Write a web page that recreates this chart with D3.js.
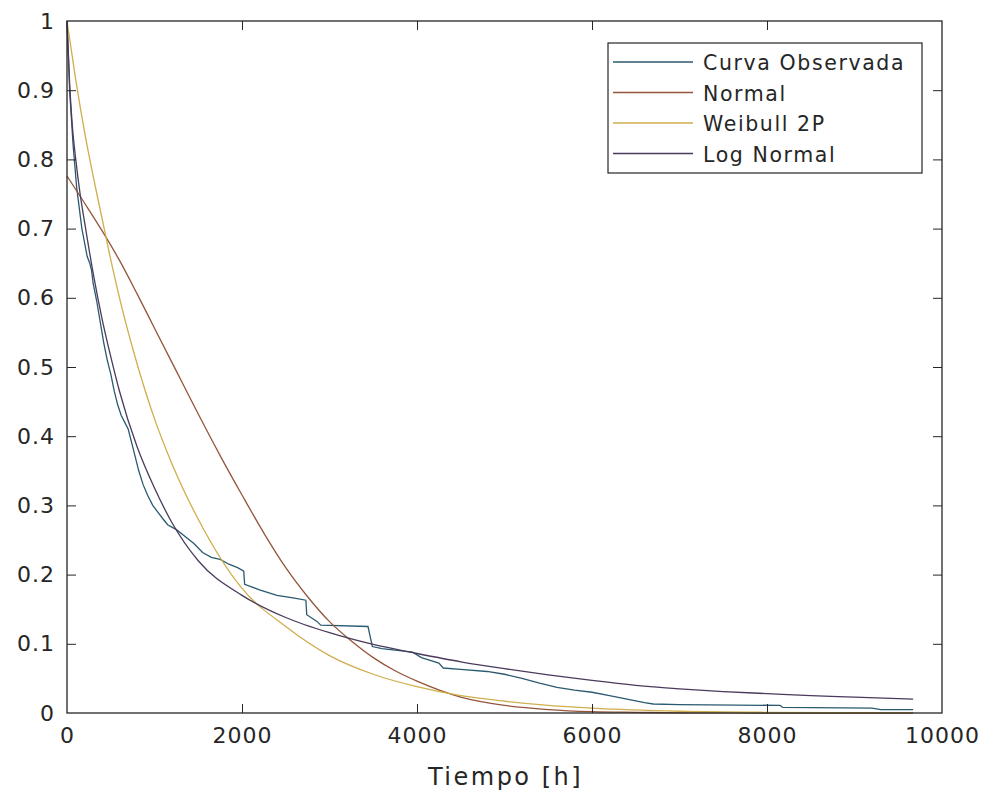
<!DOCTYPE html>
<html>
<head>
<meta charset="utf-8">
<script src="https://cdn.jsdelivr.net/npm/d3@7"></script>
<style>
  html, body { margin: 0; padding: 0; background: #fff; }
  svg { display: block; }
  text { font-family: "DejaVu Sans", sans-serif; fill: #262626; }
</style>
</head>
<body>
<svg id="chart" width="987" height="796"></svg>
<script>
// ---- Data ----
const xTicks = [0, 2000, 4000, 6000, 8000, 10000];
const yTicks = [0, 0.1, 0.2, 0.3, 0.4, 0.5, 0.6, 0.7, 0.8, 0.9, 1];
const xLabel = "Tiempo [h]";
const seriesNames = ["Curva Observada", "Normal", "Weibull 2P", "Log Normal"];

const obsT = [0,15,30,50,70,90,110,140,170,200,230,260,280,300,340,380,420,460,500,540,580,620,660,700,740,780,820,870,920,980,1040,1100,1150,1250,1350,1450,1550,1650,1750,1850,1950,2020,2030,2200,2400,2600,2730,2740,2860,2900,3440,3490,3600,3800,3950,4050,4250,4300,4500,4800,5000,5200,5400,5600,5800,6000,6200,6400,6600,6700,7000,8150,8180,9200,9300,9670];
const obsV = [1.0,0.95,0.90,0.86,0.82,0.79,0.76,0.73,0.70,0.68,0.66,0.65,0.64,0.62,0.595,0.565,0.535,0.51,0.49,0.465,0.445,0.43,0.42,0.41,0.39,0.37,0.35,0.33,0.315,0.30,0.29,0.28,0.272,0.265,0.255,0.245,0.232,0.225,0.222,0.215,0.21,0.205,0.186,0.178,0.17,0.166,0.163,0.142,0.132,0.127,0.125,0.096,0.093,0.09,0.088,0.08,0.072,0.065,0.063,0.06,0.056,0.05,0.043,0.037,0.033,0.03,0.025,0.02,0.015,0.013,0.012,0.011,0.008,0.007,0.005,0.005];

const normT = [0,200,400,600,800,1000,1250,1500,1750,2000,2250,2500,2750,3000,3250,3500,3750,4000,4500,5000,5500,6000,6500,7000,8000,9670];
const normV = [0.776,0.737,0.697,0.654,0.606,0.556,0.494,0.432,0.372,0.315,0.26,0.21,0.168,0.132,0.104,0.08,0.061,0.046,0.023,0.011,0.005,0.002,0.001,0.0003,0,0];

const weibT = [0,100,200,300,400,500,600,800,1000,1200,1500,2000,2500,3000,3500,4000,4500,5000,5500,6000,7000,8000,9670];
const weibV = [1.0,0.915,0.84,0.775,0.715,0.655,0.60,0.505,0.425,0.36,0.28,0.18,0.125,0.083,0.056,0.038,0.025,0.017,0.011,0.007,0.0025,0.001,0.0003];

const lognT = [0,30,60,100,150,200,300,400,500,600,800,1000,1200,1500,2000,2500,3000,3500,4000,4500,5000,5500,6000,6500,7000,7500,8000,8500,9000,9670];
const lognV = [1.0,0.91,0.85,0.80,0.75,0.71,0.635,0.57,0.515,0.465,0.385,0.325,0.275,0.22,0.17,0.138,0.116,0.099,0.086,0.074,0.064,0.055,0.047,0.04,0.035,0.031,0.028,0.025,0.023,0.02];

const colors = ["#2b5a70", "#94553a", "#cfae4c", "#4a3a5c"];

// ---- Layout ----
const svg = d3.select("#chart");
const L = 67, R = 942, T = 21, B = 713;
const x = d3.scaleLinear().domain([0, 10000]).range([L, R]);
const y = d3.scaleLinear().domain([0, 1]).range([B, T]);

const series = [
  {name: seriesNames[0], t: obsT, v: obsV, curve: d3.curveLinear, color: colors[0]},
  {name: seriesNames[1], t: normT, v: normV, curve: d3.curveMonotoneX, color: colors[1]},
  {name: seriesNames[2], t: weibT, v: weibV, curve: d3.curveMonotoneX, color: colors[2]},
  {name: seriesNames[3], t: lognT, v: lognV, curve: d3.curveMonotoneX, color: colors[3]}
];

// plot lines
const line = d3.line().x(d => x(d[0])).y(d => y(d[1]));
const g = svg.append("g");
series.forEach(s => {
  const pts = s.t.map((t, i) => [t, s.v[i]]);
  g.append("path")
    .attr("d", line.curve(s.curve)(pts))
    .attr("fill", "none")
    .attr("stroke", s.color)
    .attr("stroke-width", 1.3);
});

// axes (MATLAB box style: ticks inside on all four sides)
const tickLen = 9;
const axisColor = "#262626";
const axB = svg.append("g").attr("transform", `translate(0,${B})`)
  .call(d3.axisBottom(x).tickValues(xTicks).tickSizeInner(-tickLen).tickSizeOuter(0).tickPadding(14).tickFormat(d3.format("d")));
const axT = svg.append("g").attr("transform", `translate(0,${T})`)
  .call(d3.axisTop(x).tickValues(xTicks).tickSizeInner(-tickLen).tickSizeOuter(0).tickFormat(""));
const axL = svg.append("g").attr("transform", `translate(${L},0)`)
  .call(d3.axisLeft(y).tickValues(yTicks).tickSizeInner(-tickLen).tickSizeOuter(0).tickPadding(12).tickFormat(d => d3.format("~g")(d)));
const axR = svg.append("g").attr("transform", `translate(${R},0)`)
  .call(d3.axisRight(y).tickValues(yTicks).tickSizeInner(-tickLen).tickSizeOuter(0).tickFormat(""));

[axB, axT, axL, axR].forEach(a => {
  a.select(".domain").remove();
  a.selectAll(".tick line").attr("stroke", axisColor).attr("stroke-width", 1);
  a.selectAll(".tick").filter(d => d === 0 || d === 10000 || d === 1).select("line").remove();
  a.selectAll("text").attr("font-family", "DejaVu Sans, sans-serif").attr("font-size", 22)
    .attr("fill", "#333").style("letter-spacing", "1px");
});
axB.selectAll("text").attr("dy", "0.71em");
axL.selectAll("text").attr("dx", "0");

// box
svg.append("rect").attr("x", L).attr("y", T).attr("width", R - L).attr("height", B - T)
  .attr("fill", "none").attr("stroke", axisColor).attr("stroke-width", 1.3);

// x label
svg.append("text").attr("x", (L + R) / 2 + 1).attr("y", 785).attr("text-anchor", "middle")
  .attr("font-size", 24).style("letter-spacing", "2.5px").attr("fill", "#333").text(xLabel);

// legend
const lg = svg.append("g");
lg.append("rect").attr("x", 608).attr("y", 43).attr("width", 314).attr("height", 130)
  .attr("fill", "#fff").attr("stroke", axisColor).attr("stroke-width", 1.2);
series.forEach((s, i) => {
  const yy = 62 + i * 30.5;
  lg.append("line").attr("x1", 613).attr("x2", 693).attr("y1", yy).attr("y2", yy)
    .attr("stroke", s.color).attr("stroke-width", 1.3);
  lg.append("text").attr("x", 703).attr("y", yy + 8).attr("font-size", 20.5)
    .style("letter-spacing", "1.6px").attr("fill", "#333").text(s.name);
});
</script>
</body>
</html>
